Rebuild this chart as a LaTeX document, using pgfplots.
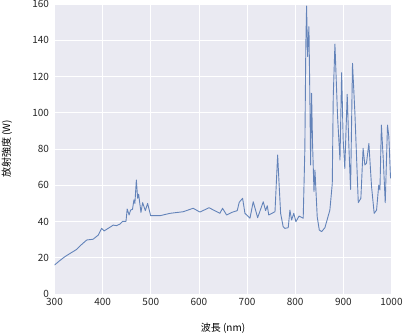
\documentclass[border=0pt]{standalone}
\usepackage{pgfplots}
\pgfplotsset{compat=1.18}
\usepackage{fontspec}
\setmainfont{Noto Sans CJK JP}
\definecolor{bgc}{RGB}{234,234,242}
\definecolor{linec}{RGB}{76,114,176}
\definecolor{txt}{RGB}{38,38,38}
\begin{document}
\begin{tikzpicture}
\useasboundingbox (-54.5pt,-42pt) rectangle (348.5pt,294pt);
\begin{axis}[
  scale only axis,
  width=337pt, height=290pt,
  xmin=300, xmax=1000, ymin=0, ymax=160,
  xtick={300,400,...,1000}, ytick={0,20,...,160},
  axis background/.style={fill=bgc},
  axis line style={draw=none},
  major tick length=0pt,
  grid=major,
  grid style={white, line width=0.8pt},
  tick label style={font=\fontsize{10}{12}\selectfont, text=txt},
  /pgf/number format/assume math mode=true,
  /pgf/number format/1000 sep={},
  xticklabel style={yshift=-1pt},
  yticklabel style={xshift=-2pt},
  xlabel={波長 (nm)}, ylabel={放射強度 (W)},
  label style={font=\fontsize{11.5}{13}\selectfont, text=txt},
  every axis x label/.style={at={(axis description cs:0.5,0)}, anchor=center, yshift=-34pt},
  every axis y label/.style={at={(axis description cs:-0.141,0.5)}, anchor=center, rotate=90},
]
\addplot[color=linec, line width=0.9pt, opacity=0.85, line join=round] coordinates {
(300,16) (310,18.2) (320,20.3) (330,22) (346,24.6) (355,27) (367,29.8) (380,30.2)
(391,32.5) (398,36.2) (403,34.8) (413.8,36.6) (422,38) (429,37.7) (436,38.6)
(441.6,40.1) (448.5,40.1) (451,46.9) (455,43.6) (458,46.3) (462,46.7) (465,51.9)
(467,50) (470,62.9) (472.7,52.8) (474.8,55) (479.6,45) (483,50.4) (488.6,46)
(493.4,50) (499.7,43.2) (519,43.2) (540,44.5) (567.5,45.4) (588,47.3) (602,45.2)
(621,47.6) (637,45.4) (643.6,44.5) (649,47.3) (657.5,43.6) (668,45) (679.6,46)
(683.7,50.6) (690.7,52.8) (695.6,44.5) (706,41.8) (712.8,50.9) (722,42.1)
(733.6,50.9) (738.5,46) (742,48.7) (745,43.6) (758,45.4) (763.5,76.7) (766.8,59.2)
(769.7,44.5) (775,37.1) (778.6,36.2) (785.5,36.6) (789,46.3) (792.5,40.8) (797,44.5)
(801.5,39.9) (808,43) (816.6,41.8) (820,79.4) (822,136.4) (823.6,158.9) (825.7,131)
(828.5,147.5) (830.5,107) (832,71.2) (834,110.7) (836,83.1) (839,56.5) (841,68.4)
(845.7,42.6) (850,35.3) (854.8,34.4) (861.7,36.6) (872,46.3) (877,61) (879,108.9)
(882.5,137.9) (888,97.8) (893,73.9) (896.4,122.1) (899.7,85) (903,69.3) (908,110.2)
(911.5,81.3) (915,57.7) (919,127.3) (924,99.7) (931,50.4) (936.4,52.8) (941,80.4)
(944.7,71.2) (948,72.1) (953,83.1) (958.6,59.2) (964,44.5) (969,46.3) (973.5,60.1)
(976,57.4) (979,93.2) (983,73.9) (987,50.4) (991.7,93.2) (994.5,86.8) (998,63.8)
};
\end{axis}
\end{tikzpicture}
\end{document}
